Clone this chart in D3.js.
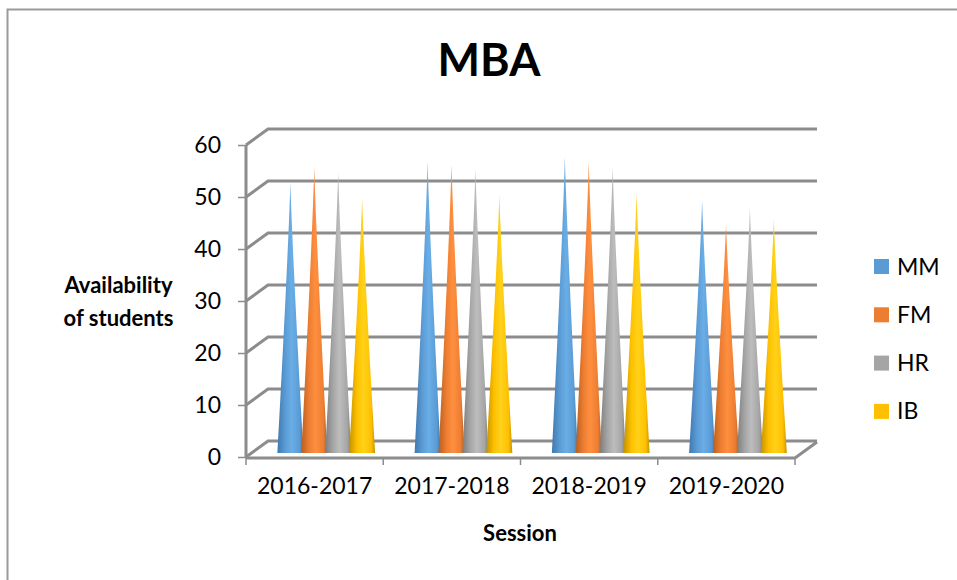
<!DOCTYPE html>
<html><head><meta charset="utf-8">
<script src="https://cdn.jsdelivr.net/npm/d3@7/dist/d3.min.js"></script>
<style>html,body{margin:0;padding:0;background:#fff}svg{display:block;font-family:Lato,"Open Sans",sans-serif}</style>
</head><body><svg id="c" width="957" height="580"></svg>
<script>
const sessions = ["2016-2017","2017-2018","2018-2019","2019-2020"];
const seriesNames = ["MM","FM","HR","IB"];
const MM = [52,56,57,48.6];
const FM = [55,55.5,56,44];
const HR = [54,54.6,55,47];
const IB = [49,49.6,50,45];
const seriesValues = [MM,FM,HR,IB];
const colors = ["#5B9BD5","#ED7D31","#A5A5A5","#FFC000"];
const dark = ["#3f78ad","#b85f20","#7d7d7d","#c49300"];
const light = ["#6aaee6","#ff8f3f","#bdbdbd","#ffd21a"];
const yTicks = [0,10,20,30,40,50,60];
const title = "MBA", xTitle = "Session", yTitle = ["Availability","of students"];

const svg = d3.select("#c");
const dx = 22, dy = 16, left = 246, right = 795, floorY = 457;
const y = d3.scaleLinear().domain([0,60]).range([floorY,145]);
const x0 = d3.scaleBand().domain(sessions).range([left,right]);
const x1 = d3.scaleBand().domain(seriesNames).range([0,x0.bandwidth()]).paddingInner(0).paddingOuter(0.87);
const gray = "#8c8c8c";

// frame
svg.append("path").attr("d",`M957,9.5H7.5V580`).attr("fill","none").attr("stroke","#9a9a9a").attr("stroke-width",2);

const defs = svg.append("defs");
defs.append("filter").attr("id","soft").append("feGaussianBlur").attr("stdDeviation",0.45);
seriesNames.forEach((s,i)=>{
  const g = defs.append("linearGradient").attr("id","g"+i);
  [[0,dark[i]],[.3,colors[i]],[.55,light[i]],[.85,colors[i]],[1,dark[i]]].forEach(([o,c])=>
    g.append("stop").attr("offset",o).attr("stop-color",c));
});

// walls
const wall = svg.append("g").attr("fill","none").attr("stroke",gray).attr("stroke-width",3).attr("filter","url(#soft)");
yTicks.forEach(v=>{
  wall.append("path").attr("d",d3.line()([[left,y(v)],[left+dx,y(v)-dy],[right+dx,y(v)-dy]]));
});
wall.append("path").attr("d",d3.line()([[left,y(0)+1],[right,y(0)+1],[right+dx,y(0)-dy+1]]));
wall.append("path").attr("d",d3.line()([[left,y(60)],[left,y(0)]]));

// axes
const ya = svg.append("g").attr("transform",`translate(${left},0)`)
  .call(d3.axisLeft(y).tickValues(yTicks).tickSize(8).tickPadding(17));
const xa = svg.append("g").attr("transform",`translate(0,${floorY+1})`)
  .call(d3.axisBottom(x0).tickSize(0).tickPadding(20));
[ya,xa].forEach(a=>{a.select(".domain").remove();a.selectAll("text").attr("font-size",23).attr("fill","#000").attr("font-family","Lato")});
ya.selectAll("line").attr("stroke",gray).attr("stroke-width",1.5);
svg.append("g").selectAll("line").data(d3.range(5)).join("line")
  .attr("x1",i=>left+x0.step()*i).attr("x2",i=>left+x0.step()*i)
  .attr("y1",floorY).attr("y2",floorY+8).attr("stroke",gray).attr("stroke-width",1.5);

// cones
const bx = dx*0.55, by = dy*0.25, rx = 13, ry = 2.5;
const profile = t => rx*Math.pow(1-t,1.15)*(t<0.12?1:1);
const area = d3.line().curve(d3.curveLinear);
const cones = svg.append("g").attr("filter","url(#soft)");
sessions.forEach((sess,si)=>{
  seriesNames.forEach((name,i)=>{
    const v = seriesValues[i][si];
    const cx = x0(sess)+x1(name)+x1.bandwidth()/2+bx-0.5;
    const base = y(0)-by, tip = y(v)-by;
    const ts = d3.range(0,1.0001,0.05);
    const pts = [];
    ts.forEach(t=>pts.push([cx-profile(t),base+(tip-base)*t]));
    ts.slice().reverse().forEach(t=>pts.push([cx+profile(t),base+(tip-base)*t]));
    cones.append("path")
      .attr("d",area(pts)+`A${rx},${ry} 0 0 0 ${cx+rx},${base}Z`)
      .attr("fill",`url(#g${i})`);
  });
});

// legend
const lg = svg.append("g");
seriesNames.forEach((n,i)=>{
  lg.append("rect").attr("x",874).attr("y",259+48.3*i).attr("width",15).attr("height",15).attr("fill",colors[i]);
  lg.append("text").attr("x",897).attr("y",274.5+48.3*i).attr("font-size",23).text(n);
});

// titles
svg.append("text").attr("x",489).attr("y",76).attr("text-anchor","middle").attr("font-size",45).attr("font-weight",700).text(title);
svg.append("text").attr("x",520).attr("y",541).attr("text-anchor","middle").attr("font-size",22).attr("font-weight",700).text(xTitle);
yTitle.forEach((t,i)=>svg.append("text").attr("x",118.5).attr("y",293+32.5*i).attr("text-anchor","middle").attr("font-size",22).attr("font-weight",700).text(t));
</script></body></html>
